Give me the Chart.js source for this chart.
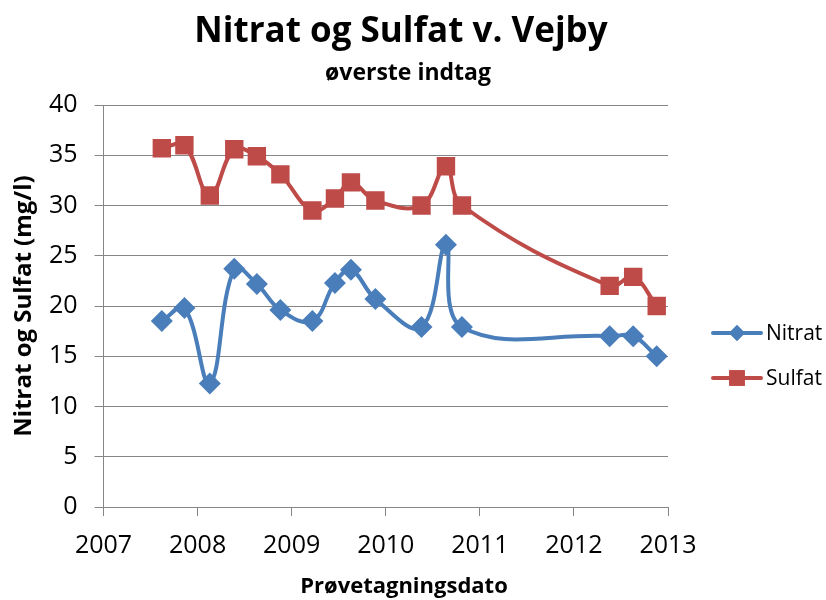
<!DOCTYPE html>
<html>
<head>
<meta charset="utf-8">
<script src="https://cdn.jsdelivr.net/npm/chart.js@4/dist/chart.umd.min.js"></script>
<style>
  html, body { margin: 0; padding: 0; background: #fff; }
  #wrap { width: 826px; height: 600px; }
</style>
</head>
<body>
<div id="wrap"><canvas id="c" width="826" height="600"></canvas></div>
<script>
// sample dates as decimal years
var dates = [2007.62, 2007.86, 2008.13, 2008.39, 2008.63, 2008.88, 2009.22, 2009.46,
             2009.63, 2009.89, 2010.38, 2010.64, 2010.81, 2012.38, 2012.63, 2012.88];
var nitrat = [18.5, 19.8, 12.3, 23.7, 22.2, 19.6, 18.5, 22.3, 23.6, 20.7, 17.9, 26.1, 17.9, 17.0, 17.0, 15.0];
var sulfat = [35.7, 36.0, 31.0, 35.6, 34.9, 33.1, 29.5, 30.7, 32.3, 30.5, 30.0, 33.9, 30.0, 22.0, 22.9, 20.0];
var yearTicks = [2007, 2008, 2009, 2010, 2011, 2012, 2013];

var FONT = '"Open Sans", sans-serif';
var BLUE = "#4a7ebb", RED = "#be4b48";

function pts(vals) {
    return vals.map(function (v, i) { return { x: dates[i], y: v }; });
}

// titles centred over the whole picture
var topTitles = {
    id: "topTitles",
    afterDraw: function (chart) {
        var ctx = chart.ctx;
        ctx.save();
        ctx.fillStyle = "#000";
        ctx.textAlign = "center";
        ctx.textBaseline = "alphabetic";
        ctx.font = "bold 35px " + FONT;
        ctx.fillText("Nitrat og Sulfat v. Vejby", 401, 42);
        ctx.font = "bold 23px " + FONT;
        ctx.fillText("øverste indtag", 408, 80);
        ctx.font = "bold 22px " + FONT;
        ctx.fillText("Prøvetagningsdato", 404, 593);
        ctx.restore();
    }
};

// legend with line + marker, drawn at the right
var sideLegend = {
    id: "sideLegend",
    afterDraw: function (chart) {
        var ctx = chart.ctx;
        var items = [
            { label: "Nitrat", color: BLUE, style: "rectRot", r: 8, y: 333 },
            { label: "Sulfat", color: RED, style: "rect", r: 11, y: 378 }
        ];
        ctx.save();
        items.forEach(function (it) {
            ctx.strokeStyle = it.color;
            ctx.lineWidth = 4;
            ctx.lineCap = "round";
            ctx.beginPath();
            ctx.moveTo(713, it.y);
            ctx.lineTo(761, it.y);
            ctx.stroke();
            ctx.fillStyle = it.color;
            Chart.helpers.drawPoint(ctx, { pointStyle: it.style, radius: it.r, borderWidth: 0 }, 737, it.y);
            ctx.fill();
            ctx.fillStyle = "#000";
            ctx.font = "21px " + FONT;
            ctx.textBaseline = "middle";
            ctx.fillText(it.label, 766, it.y + 1);
        });
        ctx.restore();
    }
};

new Chart(document.getElementById("c").getContext("2d"), {
    type: "line",
    data: {
        datasets: [
            {
                label: "Nitrat",
                data: pts(nitrat),
                borderColor: BLUE,
                backgroundColor: BLUE,
                borderWidth: 4,
                pointStyle: "rectRot",
                pointRadius: 11,
                pointBorderWidth: 0,
                tension: 0.4
            },
            {
                label: "Sulfat",
                data: pts(sulfat),
                borderColor: RED,
                backgroundColor: RED,
                borderWidth: 4,
                pointStyle: "rect",
                pointRadius: 13,
                pointBorderWidth: 0,
                tension: 0.4
            }
        ]
    },
    options: {
        responsive: false,
        animation: false,
        layout: { padding: { left: 0, right: 158, top: 105, bottom: 0 } },
        plugins: {
            legend: { display: false },
            tooltip: { enabled: false }
        },
        scales: {
            x: {
                type: "linear",
                min: 2007,
                max: 2013,
                afterBuildTicks: function (s) {
                    s.ticks = yearTicks.map(function (v) { return { value: v }; });
                },
                afterFit: function (s) { s.height = 93; },
                ticks: {
                    color: "#000",
                    font: { family: FONT, size: 25 },
                    padding: 15,
                    maxRotation: 0,
                    callback: function (v) { return String(v); }
                },
                grid: { display: true, drawOnChartArea: false, drawTicks: true, tickLength: 9, color: "#868686" },
                border: { color: "#868686", width: 1 }
            },
            y: {
                min: 0,
                max: 40,
                ticks: {
                    stepSize: 5,
                    color: "#000",
                    font: { family: FONT, size: 25 },
                    padding: 17
                },
                afterFit: function (s) { s.width = 103.5; },
                grid: { color: "#868686", tickLength: 9, lineWidth: 1 },
                border: { color: "#868686", width: 1 },
                title: {
                    display: true,
                    text: "Nitrat og Sulfat (mg/l)",
                    color: "#000",
                    font: { family: FONT, size: 24, weight: "bold" },
                    padding: { top: 10, bottom: 0 }
                }
            }
        }
    },
    plugins: [topTitles, sideLegend]
});
</script>
</body>
</html>
